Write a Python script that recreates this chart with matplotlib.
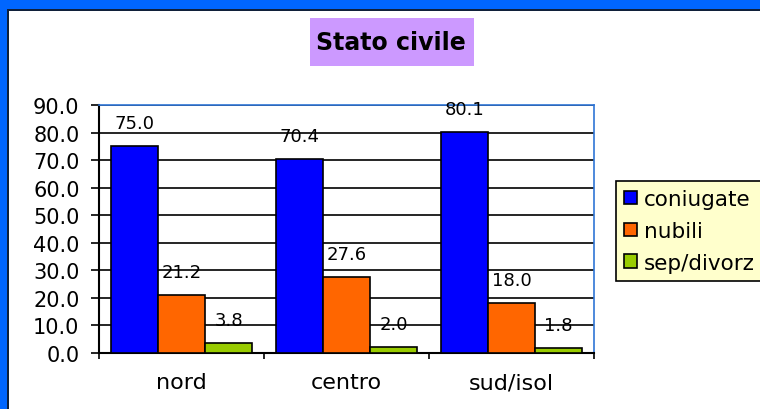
import matplotlib
matplotlib.use("Agg")
import matplotlib.pyplot as plt
from matplotlib.patches import Rectangle, Patch
import numpy as np

categories = ["nord", "centro", "sud/isol"]
series_names = ["coniugate", "nubili", "sep/divorz"]
coniugate = [75.0, 70.4, 80.1]
nubili = [21.2, 27.6, 18.0]
sep_divorz = [3.8, 2.0, 1.8]
series_values = [coniugate, nubili, sep_divorz]
colors = ["#0000FF", "#FF6600", "#99CC00"]
yticks = [0, 10, 20, 30, 40, 50, 60, 70, 80, 90]
title = "Stato civile"

plt.rcParams['font.family'] = ['DejaVu Sans']

W, H = 760, 410
fig = plt.figure(figsize=(W / 100, H / 100), dpi=100)
fig.patch.set_facecolor("white")

def fx(px):
    return px / W

def fy(py):
    return 1 - py / H

# outer blue frame (top and left) with dark inner line
fig.patches.append(Rectangle((0, fy(10)), 1, 10 / H, transform=fig.transFigure,
                             facecolor="#0066FF", edgecolor="none", zorder=0))
fig.patches.append(Rectangle((0, 0), fx(7), 1, transform=fig.transFigure,
                             facecolor="#0066FF", edgecolor="none", zorder=0))
fig.patches.append(Rectangle((fx(7), fy(12)), 1, 2 / H, transform=fig.transFigure,
                             facecolor="#10203A", edgecolor="none", zorder=1))
fig.patches.append(Rectangle((fx(7), 0), 2 / W, fy(10), transform=fig.transFigure,
                             facecolor="#10203A", edgecolor="none", zorder=1))

# title box
fig.patches.append(Rectangle((fx(310), fy(67)), (474 - 310) / W, (67 - 19) / H,
                             transform=fig.transFigure, facecolor="#CC99FF",
                             edgecolor="none", zorder=1))
fig.text(fx(391), fy(43), title, ha="center", va="center", fontsize=17,
         fontweight="bold", color="black", zorder=2)

ax_left, ax_right, ax_top, ax_bottom = 99, 594, 106, 354
ax = fig.add_axes([fx(ax_left), fy(ax_bottom), (ax_right - ax_left) / W,
                   (ax_bottom - ax_top) / H])
ax.set_facecolor("white")

x = np.arange(len(categories))
bw = 0.285
offsets = [-bw, 0, bw]
for vals, off, col in zip(series_values, offsets, colors):
    bars = ax.bar(x + off, vals, width=bw, color=col, edgecolor="black",
                  linewidth=1.2, zorder=3)
    for b, v in zip(bars, vals):
        ax.annotate(f"{v:.1f}", (b.get_x() + b.get_width() / 2, v),
                    xytext=(0, 23), textcoords="offset pixels",
                    ha="center", va="center", fontsize=13, color="black",
                    zorder=4)

ax.set_xlim(-0.5, len(categories) - 0.5)
ax.set_ylim(0, 90)
ax.set_yticks(yticks)
ax.set_yticklabels([f"{t:.1f}" for t in yticks])
ax.yaxis.grid(True, color="black", linewidth=1.2, zorder=1)
ax.set_axisbelow(True)

ax.set_xticks(x)
ax.set_xticklabels(categories)
ax.set_xticks(np.arange(-0.5, len(categories)), minor=True)
ax.tick_params(axis="x", which="major", length=0, pad=14, labelsize=16)
ax.tick_params(axis="x", which="minor", length=4.5, width=1.2, direction="out",
               color="black")
ax.tick_params(axis="y", which="major", length=6, width=1.2, direction="out",
               pad=8, labelsize=15, color="black")

for s in ["left", "bottom"]:
    ax.spines[s].set_color("black")
    ax.spines[s].set_linewidth(1.5)
for s in ["top", "right"]:
    ax.spines[s].set_color("#2F75D6")
    ax.spines[s].set_linewidth(1.2)

handles = [Patch(facecolor=c, edgecolor="black", linewidth=1.2) for c in colors]
leg = fig.legend(handles, series_names, loc="upper left",
                 bbox_to_anchor=(fx(616), fy(182)), borderaxespad=0,
                 frameon=True, fancybox=False, facecolor="#FFFFCC",
                 edgecolor="black", framealpha=1, fontsize=15.5,
                 handlelength=0.6, handleheight=0.6, handletextpad=0.32,
                 labelspacing=0.55, borderpad=0.38)
leg.get_frame().set_linewidth(1.2)

fig.savefig("out.png", dpi=100, facecolor=fig.get_facecolor())
